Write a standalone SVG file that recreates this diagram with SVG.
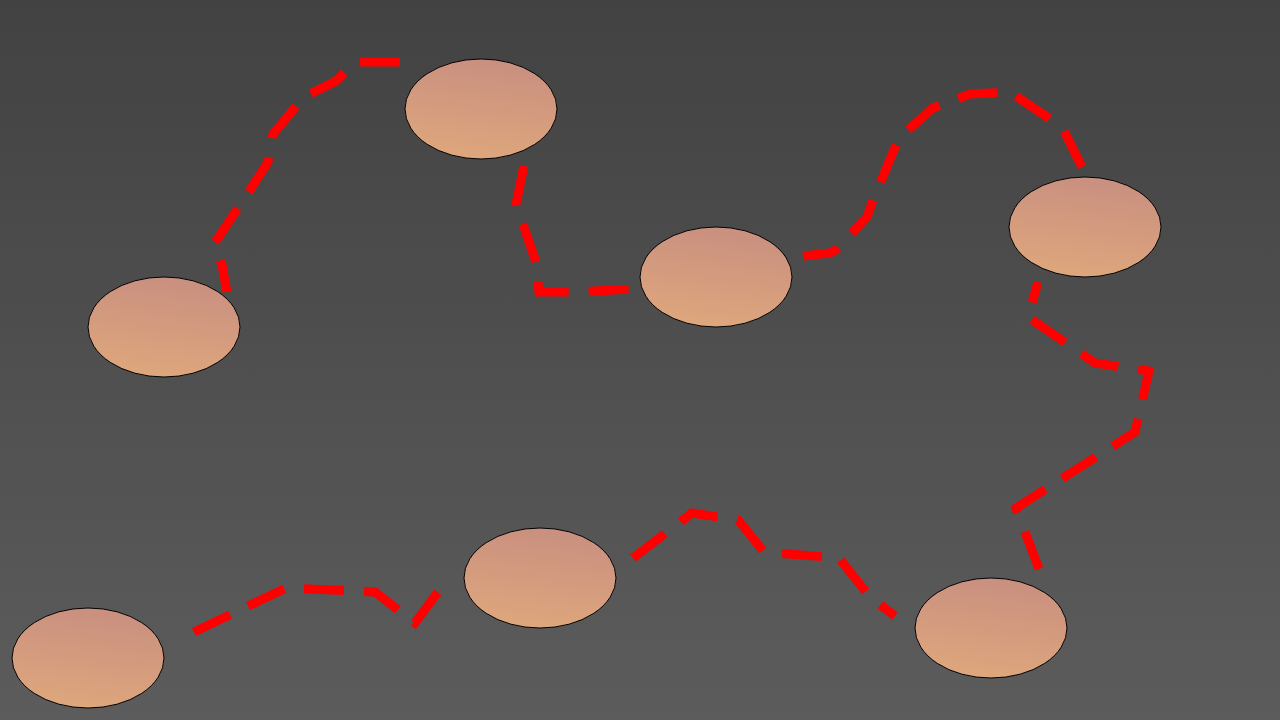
<svg xmlns="http://www.w3.org/2000/svg" width="1280" height="720" viewBox="0 0 1280 720">
  <defs>
    <linearGradient id="bg" x1="0" y1="0" x2="0" y2="1">
      <stop offset="0" stop-color="#424242"/>
      <stop offset="1" stop-color="#5c5c5c"/>
    </linearGradient>
    <linearGradient id="nodeFill" x1="0.6" y1="0" x2="0.4" y2="1">
      <stop offset="0" stop-color="#c98f80"/>
      <stop offset="1" stop-color="#dea77c"/>
    </linearGradient>
    <style>
      .node { fill: url(#nodeFill); stroke: #000000; stroke-width: 1; }
      .edge { fill: none; stroke: #ff0000; stroke-width: 9; stroke-dasharray: 40 20; stroke-linejoin: miter; stroke-linecap: butt; }
    </style>
  </defs>
  <rect x="0" y="0" width="1280" height="720" fill="url(#bg)"/>
  <g id="connectors">
    <polyline class="edge" points="400,62 355,62 336,81 304,97 273,134 268,162 248,193 214,244 222,265 227,292"/>
    <polyline class="edge" points="524,166 516,204 536,262 539,292 572,292 632,289"/>
    <polyline class="edge" points="1082,167 1062,127 1010,92 970,94 933,108 899,138 873,200 867,217 837,249 830,253 803,256"/>
    <polyline class="edge" points="1039,569 1016,508 1135,432 1149,371 1095,363 1028,317 1038,282"/>
    <polyline class="edge" points="633,558 692,513 738,520 764,552 839,558 870,597 895,616"/>
    <polyline class="edge" points="194,632 286,588 375,592 415,623 438,592"/>
  </g>
  <g id="node-a"><ellipse class="node" cx="164" cy="327" rx="76" ry="50"/></g>
  <g id="node-b"><ellipse class="node" cx="481" cy="109" rx="76" ry="50"/></g>
  <g id="node-c"><ellipse class="node" cx="716" cy="277" rx="76" ry="50"/></g>
  <g id="node-d"><ellipse class="node" cx="1085" cy="227" rx="76" ry="50"/></g>
  <g id="node-e"><ellipse class="node" cx="991" cy="628" rx="76" ry="50"/></g>
  <g id="node-f"><ellipse class="node" cx="540" cy="578" rx="76" ry="50"/></g>
  <g id="node-g"><ellipse class="node" cx="88" cy="658" rx="76" ry="50"/></g>
</svg>
